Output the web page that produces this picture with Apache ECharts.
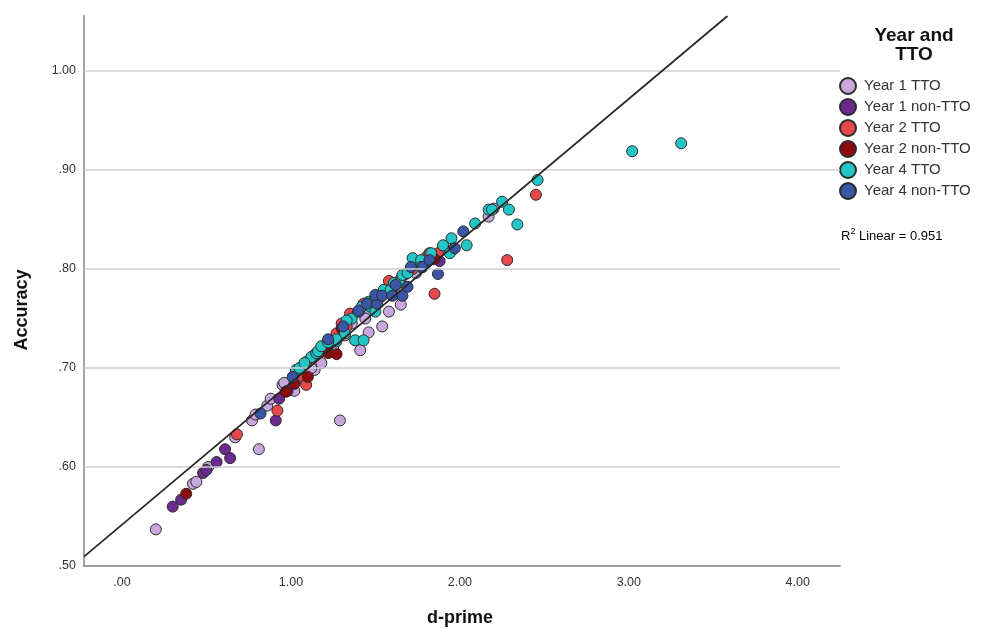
<!DOCTYPE html>
<html>
<head>
<meta charset="utf-8">
<script src="https://cdn.jsdelivr.net/npm/echarts@6/dist/echarts.min.js"></script>
<style>
  html, body { margin: 0; padding: 0; background: #ffffff; }
  #chart { width: 988px; height: 628px; }
</style>
</head>
<body>
<div id="chart"></div>
<script>
// Group names and colours, in legend order
const groupNames = ['Year 1 TTO', 'Year 1 non-TTO', 'Year 2 TTO', 'Year 2 non-TTO', 'Year 4 TTO', 'Year 4 non-TTO'];
const groupColors = ['#c8a7df', '#6b2b8e', '#e8474b', '#8e0a0c', '#22c6c6', '#3a55a6'];

// [d-prime, accuracy] per participant
const year1TTO = [
  [0.20, 0.537], [0.42, 0.583], [0.44, 0.585], [0.51, 0.600], [0.67, 0.630], [0.77, 0.647],
  [0.79, 0.653], [0.81, 0.618], [0.86, 0.662], [0.88, 0.669], [0.95, 0.683], [0.96, 0.685],
  [1.02, 0.677], [1.06, 0.690], [1.14, 0.698], [1.18, 0.705], [1.25, 0.720], [1.29, 0.647],
  [1.32, 0.733], [1.41, 0.718], [1.44, 0.754], [1.44, 0.750], [1.46, 0.736], [1.54, 0.742],
  [1.58, 0.757], [1.65, 0.764], [1.74, 0.796], [2.17, 0.853], [2.20, 0.861], [1.12, 0.700],
  [1.36, 0.745], [1.62, 0.775]
];
const year1NonTTO = [
  [0.30, 0.560], [0.35, 0.567], [0.48, 0.594], [0.50, 0.597], [0.56, 0.605], [0.61, 0.618],
  [0.64, 0.609], [0.91, 0.647], [0.93, 0.669], [0.98, 0.677], [1.88, 0.808], [1.96, 0.820]
];
const year2TTO = [
  [0.68, 0.633], [0.92, 0.657], [1.06, 0.692], [1.09, 0.683], [1.09, 0.706], [1.13, 0.712],
  [1.22, 0.725], [1.27, 0.735], [1.33, 0.742], [1.35, 0.755], [1.40, 0.757], [1.50, 0.770],
  [1.55, 0.776], [1.60, 0.780], [1.65, 0.790], [1.72, 0.800], [1.80, 0.812], [1.82, 0.816],
  [1.87, 0.816], [1.85, 0.775], [2.28, 0.809], [2.45, 0.875], [1.19, 0.722], [1.43, 0.765],
  [1.30, 0.745], [1.58, 0.788]
];
const year2NonTTO = [
  [0.38, 0.573], [0.97, 0.676], [1.10, 0.691], [1.22, 0.715], [1.27, 0.714], [1.30, 0.740],
  [1.52, 0.770], [1.60, 0.781], [1.68, 0.795], [1.80, 0.806], [1.85, 0.810], [1.02, 0.684]
];
const year4TTO = [
  [1.03, 0.698], [1.05, 0.700], [1.12, 0.711], [1.15, 0.715], [1.16, 0.717], [1.18, 0.722],
  [1.27, 0.727], [1.27, 0.729], [1.32, 0.735], [1.36, 0.750], [1.38, 0.728], [1.43, 0.728],
  [1.40, 0.757], [1.42, 0.762], [1.47, 0.762], [1.46, 0.767], [1.50, 0.757], [1.50, 0.772],
  [1.55, 0.779], [1.59, 0.779], [1.61, 0.786], [1.64, 0.786], [1.66, 0.794], [1.69, 0.796],
  [1.73, 0.804], [1.72, 0.811], [1.77, 0.809], [1.77, 0.802], [1.83, 0.816], [1.90, 0.824],
  [1.94, 0.816], [1.95, 0.831], [2.04, 0.824], [2.09, 0.846], [2.17, 0.860], [2.19, 0.860],
  [2.25, 0.868], [2.29, 0.860], [2.34, 0.845], [2.46, 0.890], [3.02, 0.919], [3.31, 0.927],
  [1.22, 0.726], [1.33, 0.748], [1.08, 0.705]
];
const year4NonTTO = [
  [0.82, 0.654], [1.01, 0.691], [1.22, 0.729], [1.45, 0.765], [1.51, 0.765], [1.50, 0.774],
  [1.54, 0.773], [1.60, 0.773], [1.62, 0.784], [1.66, 0.773], [1.69, 0.782], [1.71, 0.802],
  [1.78, 0.802], [1.82, 0.809], [1.87, 0.795], [1.97, 0.821], [2.02, 0.838], [1.31, 0.742],
  [1.40, 0.758]
];
const groupData = [year1TTO, year1NonTTO, year2TTO, year2NonTTO, year4TTO, year4NonTTO];

// Axis ticks and ranges
const xTicks = [0, 1, 2, 3, 4];
const yTicks = [0.5, 0.6, 0.7, 0.8, 0.9, 1.0];
const xRange = [-0.225, 4.25];
const yRange = [0.5, 1.0556];

// Linear fit over all participants
const fitIntercept = 0.5417;
const fitSlope = 0.1434;
const rSquared = 0.951;

const fmt = v => {
  const s = Number(v).toFixed(2);
  return s.startsWith('0') ? s.slice(1) : s;
};

// Fit line end points, clipped to the plotting area
const fitStartX = xRange[0];
const fitEndX = Math.min(xRange[1], (yRange[1] - fitIntercept) / fitSlope);
const fitLine = [
  [fitStartX, fitIntercept + fitSlope * fitStartX],
  [fitEndX, fitIntercept + fitSlope * fitEndX]
];

const font = '"Liberation Sans", Arial, sans-serif';

const scatterSeries = groupNames.map((name, i) => ({
  name: name,
  type: 'scatter',
  data: groupData[i],
  symbol: 'circle',
  symbolSize: 11,
  z: 3,
  itemStyle: { color: groupColors[i], borderColor: '#2b2b2b', borderWidth: 1, opacity: 1 },
  emphasis: { disabled: true }
}));

const chart = echarts.init(document.getElementById('chart'), null, { renderer: 'canvas' });
chart.setOption({
  animation: false,
  backgroundColor: '#ffffff',
  grid: { left: 84, right: 148, top: 16, bottom: 62, containLabel: false },
  title: {
    text: 'Year and\nTTO',
    left: 914,
    top: 26,
    padding: 0,
    textAlign: 'center',
    textStyle: { fontFamily: font, fontSize: 19, fontWeight: 'bold', color: '#111', lineHeight: 19 }
  },
  legend: {
    data: groupNames,
    orient: 'vertical',
    left: 839,
    top: 77,
    padding: 0,
    itemWidth: 16,
    itemHeight: 16,
    itemGap: 3,
    icon: 'circle',
    textStyle: { fontFamily: font, fontSize: 15, color: '#333', lineHeight: 16, height: 16, padding: [0, 0, 0, 3] },
    selectedMode: false
  },
  xAxis: {
    type: 'value',
    min: xRange[0],
    max: xRange[1],
    axisLine: { show: true, onZero: false, lineStyle: { color: '#7d7d7d', width: 1.5 } },
    axisTick: { show: false },
    splitLine: { show: false },
    axisLabel: {
      customValues: xTicks,
      formatter: fmt,
      margin: 10,
      fontFamily: font,
      fontSize: 12.5,
      color: '#333'
    }
  },
  yAxis: {
    type: 'value',
    min: yRange[0],
    max: yRange[1],
    axisLine: { show: true, onZero: false, lineStyle: { color: '#a3a3a3', width: 2 } },
    axisTick: { show: false },
    splitLine: { show: false },
    axisLabel: {
      customValues: yTicks,
      formatter: fmt,
      margin: 8,
      fontFamily: font,
      fontSize: 12.5,
      color: '#333'
    }
  },
  graphic: [
    {
      type: 'text',
      x: 22, y: 310,
      rotation: Math.PI / 2,
      style: { text: 'Accuracy', fontFamily: font, fontSize: 18, fontWeight: 'bold', fill: '#111', align: 'center', verticalAlign: 'middle' }
    },
    {
      type: 'text',
      x: 460, y: 618,
      style: { text: 'd-prime', fontFamily: font, fontSize: 18, fontWeight: 'bold', fill: '#111', align: 'center', verticalAlign: 'middle' }
    },
    {
      type: 'text',
      x: 841, y: 236,
      style: {
        text: '{b|R}{s|2}{b| Linear = ' + rSquared.toFixed(3) + '}',
        verticalAlign: 'middle',
        rich: {
          b: { fontFamily: font, fontSize: 13, color: '#222' },
          s: { fontFamily: font, fontSize: 9, color: '#222', verticalAlign: 'top', padding: [0, 0, 8, 0] }
        }
      }
    }
  ],
  series: [
    {
      // horizontal reference lines at each y tick above the baseline
      name: 'grid',
      type: 'line',
      data: [],
      z: 1,
      silent: true,
      markLine: {
        silent: true,
        symbol: 'none',
        label: { show: false },
        lineStyle: { color: '#cfcfcf', width: 1.5, type: 'solid' },
        data: yTicks.slice(1).map(v => ({ yAxis: v }))
      }
    },
    ...scatterSeries,
    {
      name: 'Linear fit',
      type: 'line',
      data: fitLine,
      showSymbol: false,
      symbol: 'none',
      z: 5,
      silent: true,
      lineStyle: { color: '#262626', width: 1.7 }
    }
  ]
});
</script>
</body>
</html>
